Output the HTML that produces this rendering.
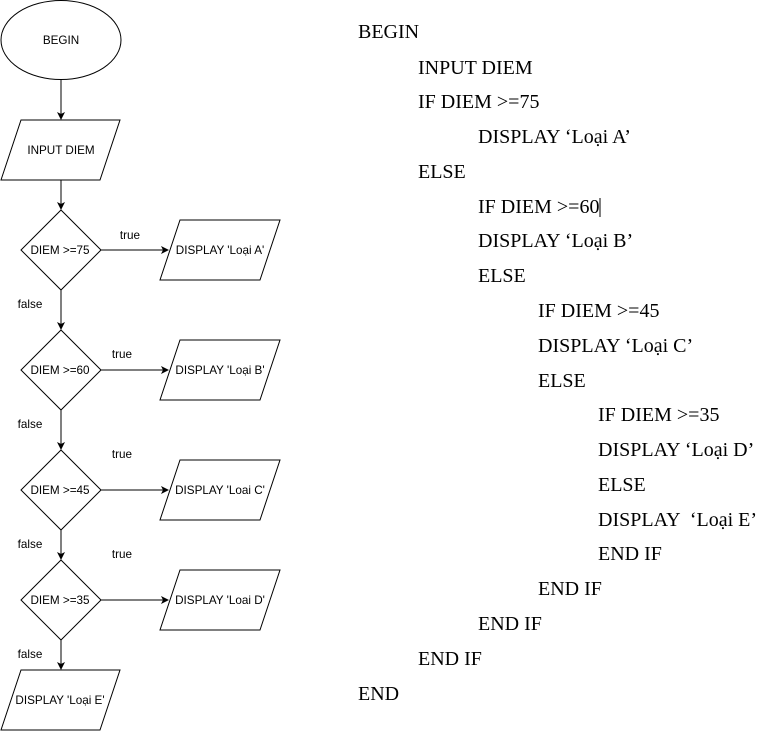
<!DOCTYPE html>
<html><head><meta charset="utf-8"><style>
html,body{margin:0;padding:0;background:#fff;}
svg{display:block;}
.d{font-family:"Liberation Sans",Arial,sans-serif;font-size:11.7px;fill:#000;}
.p{font-family:"Liberation Serif","Times New Roman",serif;font-size:20px;fill:#000;}
</style></head><body>
<svg width="783" height="731" viewBox="0 0 783 731" xmlns="http://www.w3.org/2000/svg">
<defs><marker id="a" markerWidth="8" markerHeight="8" refX="7" refY="4" orient="auto" markerUnits="userSpaceOnUse"><path d="M0,0 L8,4 L0,8 L2,4 Z" fill="#000"/></marker></defs>
<g fill="none" stroke="#000" stroke-width="1">
<ellipse cx="61" cy="40" rx="60" ry="39.5"/>
<polygon points="21,120 120,120 100,180 1,180"/>
<polygon points="61,210 101,250 61,290 21,250"/>
<polygon points="61,330 101,370 61,410 21,370"/>
<polygon points="61,450 101,490 61,530 21,490"/>
<polygon points="61,560 101,600 61,640 21,600"/>
<polygon points="180,220 280,220 260,280 160,280"/>
<polygon points="180,340 280,340 260,400 160,400"/>
<polygon points="180,460 280,460 260,520 160,520"/>
<polygon points="180,570 280,570 260,630 160,630"/>
<polygon points="21,670 120,670 100,730 1,730"/>
<line x1="61" y1="80" x2="61" y2="119" marker-end="url(#a)"/>
<line x1="61" y1="180" x2="61" y2="209" marker-end="url(#a)"/>
<line x1="61" y1="290" x2="61" y2="329" marker-end="url(#a)"/>
<line x1="61" y1="410" x2="61" y2="449" marker-end="url(#a)"/>
<line x1="61" y1="530" x2="61" y2="559" marker-end="url(#a)"/>
<line x1="61" y1="640" x2="61" y2="669" marker-end="url(#a)"/>
<line x1="101" y1="250" x2="168" y2="250" marker-end="url(#a)"/>
<line x1="101" y1="370" x2="168" y2="370" marker-end="url(#a)"/>
<line x1="101" y1="490" x2="168" y2="490" marker-end="url(#a)"/>
<line x1="101" y1="600" x2="168" y2="600" marker-end="url(#a)"/>
</g>
<g class="d" text-anchor="middle">
<text x="61" y="44">BEGIN</text>
<text x="61" y="154">INPUT DIEM</text>
<text x="60" y="254">DIEM &gt;=75</text>
<text x="60" y="374">DIEM &gt;=60</text>
<text x="60" y="494">DIEM &gt;=45</text>
<text x="60" y="604">DIEM &gt;=35</text>
<text x="220" y="254">DISPLAY 'Loại A'</text>
<text x="220" y="374">DISPLAY 'Loại B'</text>
<text x="220" y="494">DISPLAY 'Loai C'</text>
<text x="220" y="604">DISPLAY 'Loai D'</text>
<text x="60" y="704">DISPLAY 'Loại E'</text>
<text x="130" y="239">true</text>
<text x="122" y="358">true</text>
<text x="122" y="458">true</text>
<text x="122" y="558">true</text>
<text x="30" y="308">false</text>
<text x="30" y="428">false</text>
<text x="30" y="548">false</text>
<text x="30" y="658">false</text>
</g>
<g class="p">
<text x="358" y="38">BEGIN</text>
<text x="418" y="74">INPUT DIEM</text>
<text x="418" y="108">IF DIEM &gt;=75</text>
<text x="478" y="143">DISPLAY ‘Loại A’</text>
<text x="418" y="178">ELSE</text>
<text x="478" y="213">IF DIEM &gt;=60</text>
<line x1="600" y1="198" x2="600" y2="217" stroke="#000" stroke-width="1"/>
<text x="478" y="247">DISPLAY ‘Loại B’</text>
<text x="478" y="282">ELSE</text>
<text x="538" y="317">IF DIEM &gt;=45</text>
<text x="538" y="352">DISPLAY ‘Loại C’</text>
<text x="538" y="387">ELSE</text>
<text x="598" y="421">IF DIEM &gt;=35</text>
<text x="598" y="456">DISPLAY ‘Loại D’</text>
<text x="598" y="491">ELSE</text>
<text x="598" y="526" xml:space="preserve">DISPLAY  ‘Loại E’</text>
<text x="598" y="560">END IF</text>
<text x="538" y="595">END IF</text>
<text x="478" y="630">END IF</text>
<text x="418" y="665">END IF</text>
<text x="358" y="700">END</text>
</g>
</svg>
</body></html>
